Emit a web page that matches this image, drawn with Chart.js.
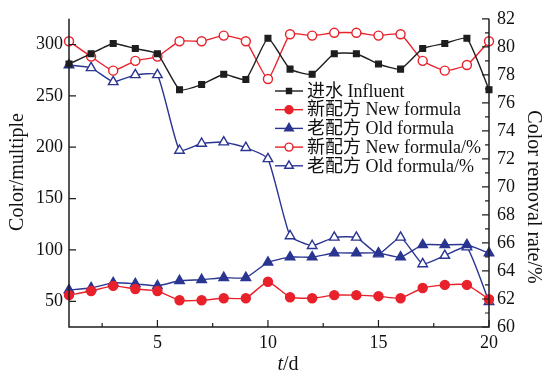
<!DOCTYPE html>
<html>
<head>
<meta charset="utf-8">
<script src="https://cdn.jsdelivr.net/npm/chart.js@4.4.1/dist/chart.umd.min.js"></script>
<style>
  html, body { margin: 0; padding: 0; background: #fff; }
</style>
</head>
<body>
<canvas id="grafico" width="545" height="374"></canvas>
<script>
// dados
const days = [1, 2, 3, 4, 5, 6, 7, 8, 9, 10, 11, 12, 13, 14, 15, 16, 17, 18, 19, 20];
const influent = [281, 291, 301, 296, 291, 256, 261, 271, 266, 306, 276, 271, 291, 291, 281, 276, 296, 301, 306, 256];
const newFormula = [56, 60, 65, 62, 60, 51, 51, 53, 53, 69, 54, 53, 56, 56, 55, 53, 63, 66, 66, 52];
const oldFormula = [61, 63, 68, 67, 65, 70, 71, 73, 73, 88, 93, 93, 97, 97, 97, 93, 105, 105, 105, 97];
const newRate = [80.4, 79.3, 78.3, 79.0, 79.3, 80.4, 80.4, 80.8, 80.4, 77.7, 80.9, 80.8, 81.0, 81.0, 80.8, 80.9, 79.0, 78.3, 78.7, 80.4];
const oldRate = [78.7, 78.5, 77.5, 78.0, 78.0, 72.6, 73.1, 73.2, 72.8, 72.0, 66.5, 65.8, 66.4, 66.4, 65.2, 66.4, 64.5, 65.1, 65.7, 61.8];

const xTicks = [5, 10, 15, 20];
const xMinor = [2.5, 7.5, 12.5, 17.5];
const leftTicks = [50, 100, 150, 200, 250, 300];
const rightTicks = [60, 62, 64, 66, 68, 70, 72, 74, 76, 78, 80, 82];
const rightMinor = [61, 63, 65, 67, 69, 71, 73, 75, 77, 79, 81];

const labels = ['进水 Influent', '新配方 New formula', '老配方 Old formula', '新配方 New formula/%', '老配方 Old formula/%'];

const BLACK = '#1e1e1e';
const RED = '#e8212b';
const BLUE = '#2a3592';
const FONT = '"Liberation Serif", "Noto Sans CJK SC", serif';

function pts(arr) {
    return days.map((d, i) => ({ x: d, y: arr[i] }));
}

function serie(label, arr, cor, estilo, cheio, eixo, raio) {
    return {
        label: label,
        data: pts(arr),
        yAxisID: eixo,
        borderColor: cor,
        borderWidth: 1.4,
        backgroundColor: cheio ? cor : '#ffffff',
        pointBackgroundColor: cheio ? cor : '#ffffff',
        pointBorderColor: cor,
        pointBorderWidth: 1.4,
        pointStyle: estilo,
        pointRadius: raio,
        tension: 0.15,
        clip: false
    };
}

// eixos, marcas e legenda desenhados à mão
const eixosPlugin = {
    id: 'eixos',
    afterDraw(chart) {
        const ctx = chart.ctx;
        const a = chart.chartArea;
        const sx = chart.scales.x, sy = chart.scales.y, sy2 = chart.scales.y2;
        ctx.save();
        ctx.strokeStyle = BLACK;
        ctx.lineWidth = 1.5;
        ctx.beginPath();
        ctx.moveTo(a.left, a.top); ctx.lineTo(a.left, a.bottom); ctx.lineTo(a.right, a.bottom); ctx.lineTo(a.right, a.top);
        ctx.stroke();
        ctx.lineWidth = 1.2;
        ctx.beginPath();
        xTicks.forEach(v => { const p = sx.getPixelForValue(v); ctx.moveTo(p, a.bottom); ctx.lineTo(p, a.bottom - 7); });
        xMinor.forEach(v => { const p = sx.getPixelForValue(v); ctx.moveTo(p, a.bottom); ctx.lineTo(p, a.bottom - 4); });
        leftTicks.forEach(v => { const p = sy.getPixelForValue(v); ctx.moveTo(a.left, p); ctx.lineTo(a.left + 7, p); });
        rightTicks.forEach(v => { const p = sy2.getPixelForValue(v); ctx.moveTo(a.right, p); ctx.lineTo(a.right - 7, p); });
        rightMinor.forEach(v => { const p = sy2.getPixelForValue(v); ctx.moveTo(a.right, p); ctx.lineTo(a.right - 4, p); });
        ctx.stroke();

        // títulos dos eixos
        ctx.fillStyle = '#111';
        ctx.font = '20px ' + FONT;
        ctx.textBaseline = 'middle';
        ctx.textAlign = 'center';
        ctx.save();
        ctx.translate(18, 172);
        ctx.rotate(-Math.PI / 2);
        ctx.fillText('Color/multiple', 0, 0);
        ctx.restore();
        ctx.save();
        ctx.translate(533, 197);
        ctx.rotate(Math.PI / 2);
        ctx.fillText('Color removal rate/%', 0, 0);
        ctx.restore();
        ctx.textAlign = 'left';
        ctx.font = 'italic 20px ' + FONT;
        const tw = ctx.measureText('t').width;
        ctx.font = '20px ' + FONT;
        const dw = ctx.measureText('/d').width;
        const x0 = 288 - (tw + dw) / 2;
        ctx.font = 'italic 20px ' + FONT;
        ctx.fillText('t', x0, 365);
        ctx.font = '20px ' + FONT;
        ctx.fillText('/d', x0 + tw, 365);

        // legenda
        const lx = 275, ly = 91, passo = 18.7;
        chart.data.datasets.forEach((ds, i) => {
            const y = ly + i * passo;
            ctx.strokeStyle = ds.borderColor;
            ctx.lineWidth = 1.4;
            ctx.beginPath(); ctx.moveTo(lx, y); ctx.lineTo(lx + 28, y); ctx.stroke();
            ctx.fillStyle = ds.pointBackgroundColor;
            ctx.strokeStyle = ds.pointBorderColor;
            Chart.helpers.drawPoint(ctx, {
                pointStyle: ds.pointStyle, radius: ds.pointRadius - 0.5, rotation: 0, borderWidth: 1.4
            }, lx + 14, y);
            ctx.fillStyle = '#111';
            ctx.font = '18px ' + FONT;
            ctx.fillText(ds.label, lx + 32, y + 1);
        });
        ctx.restore();
    }
};

const grafico = new Chart(document.getElementById('grafico').getContext('2d'), {
    type: 'line',
    data: {
        datasets: [
            serie(labels[0], influent, BLACK, 'rect', true, 'y', 4),
            serie(labels[1], newFormula, RED, 'circle', true, 'y', 4.5),
            serie(labels[2], oldFormula, BLUE, 'triangle', true, 'y', 5.5),
            serie(labels[3], newRate, RED, 'circle', false, 'y2', 4.5),
            serie(labels[4], oldRate, BLUE, 'triangle', false, 'y2', 5.5)
        ]
    },
    options: {
        responsive: false,
        animation: false,
        devicePixelRatio: 1,
        layout: { padding: { top: 15, left: 0, right: 0, bottom: 0 } },
        plugins: {
            legend: { display: false },
            tooltip: { enabled: false }
        },
        scales: {
            x: {
                type: 'linear', min: 1, max: 20,
                grid: { display: false, drawTicks: false },
                border: { display: false },
                ticks: { color: '#111', font: { family: FONT, size: 18 }, padding: 5, maxRotation: 0 },
                afterBuildTicks: s => { s.ticks = xTicks.map(v => ({ value: v })); },
                afterFit: s => { s.height = 47; }
            },
            y: {
                position: 'left', min: 25, max: 325,
                grid: { display: false, drawTicks: false },
                border: { display: false },
                ticks: { color: '#111', font: { family: FONT, size: 18 }, padding: 6 },
                afterBuildTicks: s => { s.ticks = leftTicks.map(v => ({ value: v })); },
                afterFit: s => { s.width = 69; }
            },
            y2: {
                position: 'right', min: 60, max: 82,
                grid: { display: false, drawTicks: false },
                border: { display: false },
                ticks: { color: '#111', font: { family: FONT, size: 18 }, padding: 8 },
                afterBuildTicks: s => { s.ticks = rightTicks.map(v => ({ value: v })); },
                afterFit: s => { s.width = 56; }
            }
        }
    },
    plugins: [eixosPlugin]
});
</script>
</body>
</html>
